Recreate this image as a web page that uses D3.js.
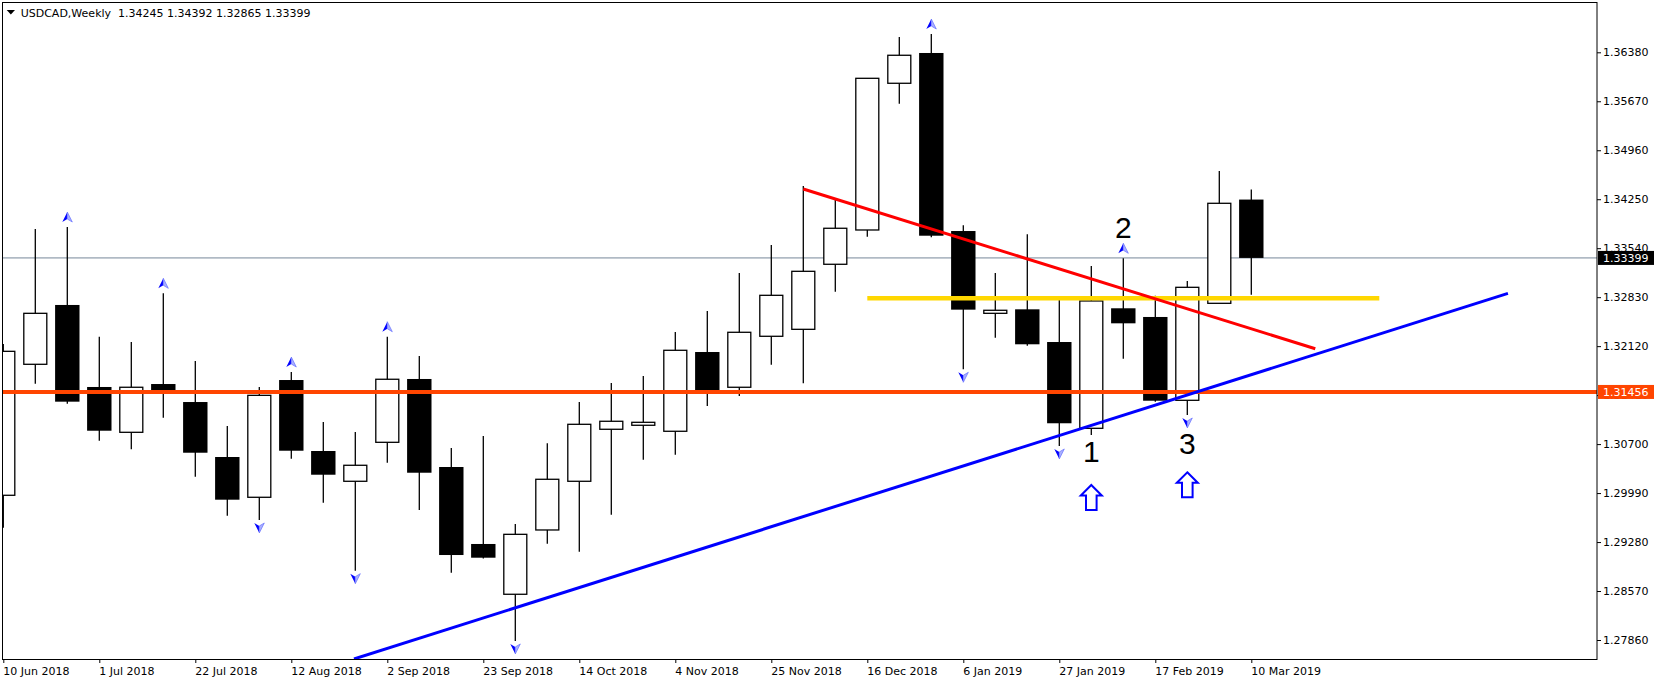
<!DOCTYPE html>
<html><head><meta charset="utf-8">
<script src="https://cdn.jsdelivr.net/npm/d3@7"></script>
<style>
html,body{margin:0;padding:0;background:#fff;overflow:hidden}
svg{display:block;font-family:"DejaVu Sans",sans-serif}
</style></head><body>
<svg id="chart" width="1660" height="683"></svg>
<script>
// ---------- data ----------
const symbolTitle = "USDCAD,Weekly";
const lastOHLC = ["1.34245", "1.34392", "1.32865", "1.33399"];

const openP  = [1.29958,1.31857,1.32717,1.31528,1.30871,1.31571,1.31310,1.30513,1.29929,1.31629,
                1.30600,1.30161,1.30726,1.31644,1.30368,1.29252,1.28523,1.29455,1.30161,1.30915,
                1.30973,1.30886,1.32035,1.31524,1.32263,1.32364,1.33307,1.33804,1.35931,1.36370,
                1.33789,1.32596,1.32654,1.32180,1.30929,1.32669,1.32543,1.31335,1.32741,1.34245];
const highP  = [1.32150,1.33818,1.33847,1.32257,1.32180,1.32886,1.31905,1.30962,1.31528,1.31745,
                1.31020,1.30875,1.32257,1.31977,1.30644,1.30817,1.29542,1.30712,1.31310,1.31586,
                1.31687,1.32325,1.32630,1.33180,1.33586,1.34442,1.34253,1.36003,1.36602,1.36645,
                1.33872,1.33180,1.33742,1.32847,1.33282,1.33394,1.32851,1.33065,1.34659,1.34392];
const lowP   = [1.29488,1.31576,1.31286,1.30749,1.30625,1.31083,1.30227,1.29662,1.29600,1.30488,
                1.29850,1.28865,1.30430,1.29745,1.28836,1.29040,1.27846,1.29256,1.29140,1.29677,
                1.30474,1.30546,1.31252,1.31397,1.31851,1.31581,1.32909,1.33707,1.35635,1.33700,
                1.31784,1.32243,1.32127,1.30673,1.30832,1.31938,1.31315,1.31122,1.32741,1.32865];
const closeP = [1.32045,1.32596,1.31315,1.30894,1.31524,1.31455,1.30575,1.29894,1.31407,1.30604,
                1.30256,1.30393,1.31640,1.30285,1.29092,1.29053,1.29392,1.30190,1.30987,1.31031,
                1.31016,1.32060,1.31455,1.32321,1.32857,1.33205,1.33829,1.36003,1.36337,1.33721,
                1.32649,1.32640,1.32147,1.31002,1.32775,1.32451,1.31329,1.32973,1.34191,1.33399];

const dateTickIdx = [0,3,6,9,12,15,18,21,24,27,30,33,36,39];
const dateLabels = ["10 Jun 2018","1 Jul 2018","22 Jul 2018","12 Aug 2018","2 Sep 2018","23 Sep 2018",
                    "14 Oct 2018","4 Nov 2018","25 Nov 2018","16 Dec 2018","6 Jan 2019","27 Jan 2019",
                    "17 Feb 2019","10 Mar 2019"];
const priceTicks = [1.36380,1.35670,1.34960,1.34250,1.33540,1.32830,1.32120,1.31410,1.30700,1.29990,1.29280,1.28570,1.27860];

const upFractals = [2,5,9,12,29,35];
const downFractals = [8,11,16,30,33,37];

const bidLevel = 1.33399;
const supportLevel = 1.31456;
const yellowLevel = [27, 43, 1.32814];          // from index, to index, price
const redTrend = [[25, 1.34398], [41, 1.32083]];
const blueTrend = [[10.96, 1.27585], [47.02, 1.32886]];
const noteText = ["1", "2", "3"];
const noteIdx = [34, 35, 37];
const notePrice = [1.30445, 1.33684, 1.30557];
const bigArrowIdx = [34, 37];
const bigArrowPrice = [1.30107, 1.30291];

// ---------- layout ----------
const L = 2, T = 2, R = 1597, B = 659;
const svg = d3.select("#chart");
const x = d3.scaleLinear().domain([0, 39]).range([3.3, 1251.3]);
const y = d3.scaleLinear().domain([1.27860, 1.36380]).range([640, 52.3]);

svg.append("defs").append("clipPath").attr("id", "plotClip")
  .append("rect").attr("x", L).attr("y", T).attr("width", R - L).attr("height", B - T);

const plot = svg.append("g").attr("clip-path", "url(#plotClip)");

// bid line (background)
plot.append("line").attr("x1", L).attr("x2", R)
  .attr("y1", y(bidLevel)).attr("y2", y(bidLevel))
  .attr("stroke", "#778899").attr("stroke-width", 1);

// candles
const idx = d3.range(openP.length);
const cg = plot.append("g");
cg.selectAll("line.wick").data(idx).join("line")
  .attr("x1", i => x(i)).attr("x2", i => x(i))
  .attr("y1", i => y(highP[i])).attr("y2", i => y(lowP[i]))
  .attr("stroke", "#000").attr("stroke-width", 1.3);
cg.selectAll("rect.body").data(idx).join("rect")
  .attr("x", i => closeP[i] >= openP[i] ? x(i) - 11.5 : x(i) - 12.2)
  .attr("width", i => closeP[i] >= openP[i] ? 23 : 24.4)
  .attr("y", i => y(Math.max(openP[i], closeP[i])))
  .attr("height", i => Math.max(1, y(Math.min(openP[i], closeP[i])) - y(Math.max(openP[i], closeP[i]))))
  .attr("fill", i => closeP[i] >= openP[i] ? "#fff" : "#000")
  .attr("stroke", "#000").attr("stroke-width", i => closeP[i] >= openP[i] ? 1.3 : 0);

// yellow level
plot.append("line")
  .attr("x1", x(yellowLevel[0])).attr("x2", x(yellowLevel[1]))
  .attr("y1", y(yellowLevel[2])).attr("y2", y(yellowLevel[2]))
  .attr("stroke", "#FFD700").attr("stroke-width", 4.5);

// support level
plot.append("line").attr("x1", L).attr("x2", R)
  .attr("y1", y(supportLevel)).attr("y2", y(supportLevel))
  .attr("stroke", "#FF4500").attr("stroke-width", 4);

// trend lines
const lineGen = d3.line().x(d => x(d[0])).y(d => y(d[1]));
plot.append("path").attr("d", lineGen(redTrend))
  .attr("fill", "none").attr("stroke", "#FF0000").attr("stroke-width", 3);
plot.append("path").attr("d", lineGen(blueTrend))
  .attr("fill", "none").attr("stroke", "#0000FF").attr("stroke-width", 3);

// fractal arrows
function fractal(g, cx, cy, up) {
  const s = up ? 1 : -1;
  g.append("path").attr("d", `M${cx},${cy - 5 * s} L${cx},${cy + 2 * s} L${cx - 5},${cy + 5 * s} Z`)
    .attr("fill", "#0000FF");
  g.append("path").attr("d", `M${cx},${cy - 5 * s} L${cx + 5},${cy + 5 * s} L${cx},${cy + 2 * s} Z`)
    .attr("fill", "#aab0ff").attr("stroke", "#6670ff").attr("stroke-width", 0.7);
}
const fg = plot.append("g");
upFractals.forEach(i => fractal(fg, x(i), y(highP[i]) - 10, true));
downFractals.forEach(i => fractal(fg, x(i), y(lowP[i]) + 8, false));

// notes
plot.selectAll("text.note").data(noteText).join("text")
  .attr("x", (d, k) => x(noteIdx[k])).attr("y", (d, k) => y(notePrice[k]))
  .attr("text-anchor", "middle")
  .attr("font-family", "'Liberation Sans', Arial, sans-serif")
  .attr("font-size", 30).attr("fill", "#000").text(d => d);

// big hollow arrows
plot.selectAll("path.bigArrow").data(bigArrowIdx).join("path")
  .attr("d", (d, k) => {
    const cx = x(d), t = y(bigArrowPrice[k]);
    return `M${cx},${t} L${cx + 10.5},${t + 10.5} L${cx + 5.3},${t + 10.5} L${cx + 5.3},${t + 25} ` +
           `L${cx - 5.3},${t + 25} L${cx - 5.3},${t + 10.5} L${cx - 10.5},${t + 10.5} Z`;
  })
  .attr("fill", "#fff").attr("stroke", "#0000FF").attr("stroke-width", 2);

// frame
svg.append("rect").attr("x", L + 0.5).attr("y", T + 0.5)
  .attr("width", R - L - 0.5).attr("height", B - T)
  .attr("fill", "none").attr("stroke", "#000").attr("stroke-width", 1);

// price axis
const yAxis = svg.append("g").attr("transform", `translate(${R},0)`)
  .call(d3.axisRight(y).tickValues(priceTicks).tickSize(4).tickPadding(2).tickFormat(d3.format(".5f")));
yAxis.select(".domain").remove();
yAxis.selectAll("text").attr("font-family", "'DejaVu Sans', sans-serif").attr("font-size", 11).attr("fill", "#000");

// date axis
const xAxis = svg.append("g").attr("transform", `translate(0,${B})`)
  .call(d3.axisBottom(x).tickValues(dateTickIdx).tickSize(4).tickFormat((d, k) => dateLabels[k]));
xAxis.select(".domain").remove();
xAxis.selectAll("text").attr("text-anchor", "start").attr("x", -0.5).attr("y", 16).attr("dy", 0)
  .attr("font-family", "'DejaVu Sans', sans-serif").attr("font-size", 11).attr("fill", "#000");

// level price tags
function tag(price, color) {
  const yc = y(price);
  svg.append("rect").attr("x", R + 1).attr("y", yc - 7).attr("width", 56).attr("height", 14).attr("fill", color);
  svg.append("text").attr("x", R + 6).attr("y", yc).attr("dy", "0.36em")
    .attr("font-size", 11).attr("fill", "#fff").text(d3.format(".5f")(price));
}
tag(bidLevel, "#000");
tag(supportLevel, "#FF4500");

// header
svg.append("path").attr("d", "M6.7,10 L15,10 L10.85,14.5 Z").attr("fill", "#000");
svg.append("text").attr("x", 20.7).attr("y", 16.7).attr("font-size", 11).attr("fill", "#000")
  .attr("xml:space", "preserve").style("white-space", "pre")
  .text(symbolTitle + "  " + lastOHLC.join(" "));
</script>
</body></html>
